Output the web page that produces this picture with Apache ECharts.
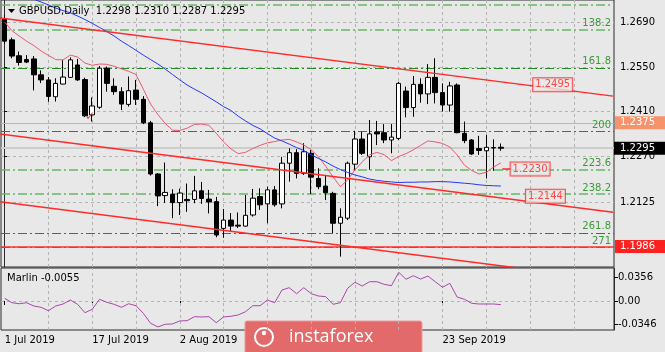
<!DOCTYPE html>
<html>
<head>
<meta charset="utf-8">
<script src="https://cdn.jsdelivr.net/npm/echarts@6/dist/echarts.min.js"></script>
<style>html,body{margin:0;padding:0;background:#e8e8e8;}#c{width:665px;height:352px;}</style>
</head>
<body>
<div id="c"></div>
<script>
const dates = ['1 Jul 2019','2 Jul 2019','3 Jul 2019','4 Jul 2019','5 Jul 2019','8 Jul 2019','9 Jul 2019','10 Jul 2019','11 Jul 2019','12 Jul 2019','15 Jul 2019','16 Jul 2019','17 Jul 2019','18 Jul 2019','19 Jul 2019','22 Jul 2019','23 Jul 2019','24 Jul 2019','25 Jul 2019','26 Jul 2019','29 Jul 2019','30 Jul 2019','31 Jul 2019',
'1 Aug 2019','2 Aug 2019','5 Aug 2019','6 Aug 2019','7 Aug 2019','8 Aug 2019','9 Aug 2019','12 Aug 2019','13 Aug 2019','14 Aug 2019','15 Aug 2019','16 Aug 2019','19 Aug 2019','20 Aug 2019','21 Aug 2019','22 Aug 2019','23 Aug 2019','26 Aug 2019','27 Aug 2019','28 Aug 2019','29 Aug 2019','30 Aug 2019',
'2 Sep 2019','3 Sep 2019','4 Sep 2019','5 Sep 2019','6 Sep 2019','9 Sep 2019','10 Sep 2019','11 Sep 2019','12 Sep 2019','13 Sep 2019','16 Sep 2019','17 Sep 2019','18 Sep 2019','19 Sep 2019','20 Sep 2019','23 Sep 2019','24 Sep 2019','25 Sep 2019','26 Sep 2019','27 Sep 2019','30 Sep 2019',
'1 Oct 2019','2 Oct 2019','3 Oct 2019','4 Oct 2019','7 Oct 2019','8 Oct 2019','9 Oct 2019','10 Oct 2019','11 Oct 2019','14 Oct 2019','15 Oct 2019','16 Oct 2019','17 Oct 2019','18 Oct 2019','21 Oct 2019','22 Oct 2019','23 Oct 2019','24 Oct 2019'];

const opens  = [1.2702,1.2636,1.2586,1.2574,1.2576,1.2526,1.2510,1.2457,1.2497,1.2518,1.2557,1.2511,1.2400,1.2424,1.2547,1.2490,1.2473,1.2433,1.2478,1.2449,1.2375,1.2214,1.2146,1.2150,1.2124,1.2134,1.2134,1.2161,1.2135,1.2127,1.2043,1.2069,1.2053,1.2050,1.2085,1.2143,1.2120,1.2164,1.2120,1.2248,1.2281,1.2216,1.2279,1.2200,1.2176,1.2153,1.2059,1.2075,1.2245,1.2324,1.2268,1.2346,1.2344,1.2321,1.2326,1.2475,1.2423,1.2496,1.2466,1.2518,1.2470,1.2431,1.2494,1.2342,1.2321,1.2294,1.2287,1.2297,1.2298];
const highs  = [1.2714,1.2643,1.2599,1.2588,1.2585,1.2540,1.2519,1.2515,1.2573,1.2581,1.2576,1.2517,1.2455,1.2554,1.2552,1.2515,1.2487,1.2521,1.2510,1.2459,1.2381,1.2217,1.2250,1.2166,1.2168,1.2184,1.2208,1.2189,1.2164,1.2142,1.2104,1.2091,1.2093,1.2148,1.2167,1.2169,1.2174,1.2176,1.2268,1.2295,1.2292,1.2311,1.2290,1.2232,1.2211,1.2158,1.2106,1.2253,1.2350,1.2347,1.2384,1.2381,1.2371,1.2371,1.2504,1.2489,1.2522,1.2515,1.2560,1.2578,1.2499,1.2504,1.2499,1.2379,1.2324,1.2334,1.2337,1.2323,1.2310];
const lows   = [1.2623,1.2578,1.2555,1.2563,1.2477,1.2500,1.2441,1.2442,1.2496,1.2516,1.2507,1.2393,1.2379,1.2419,1.2473,1.2463,1.2415,1.2426,1.2431,1.2371,1.2209,1.2113,1.2123,1.2075,1.2085,1.2095,1.2122,1.2120,1.2090,1.2015,1.2013,1.2035,1.2044,1.2048,1.2080,1.2101,1.2059,1.2111,1.2106,1.2190,1.2200,1.2211,1.2151,1.2166,1.2132,1.2028,1.1954,1.2069,1.2227,1.2274,1.2227,1.2305,1.2311,1.2279,1.2321,1.2392,1.2394,1.2438,1.2434,1.2436,1.2410,1.2410,1.2342,1.2311,1.2274,1.2274,1.2200,1.2224,1.2287];
const closes = [1.2632,1.2585,1.2565,1.2566,1.2526,1.2510,1.2458,1.2499,1.2519,1.2573,1.2510,1.2397,1.2428,1.2547,1.2499,1.2473,1.2434,1.2476,1.2449,1.2375,1.2214,1.2145,1.2156,1.2124,1.2154,1.2130,1.2161,1.2137,1.2126,1.2022,1.2069,1.2050,1.2050,1.2084,1.2138,1.2117,1.2164,1.2117,1.2248,1.2281,1.2216,1.2284,1.2204,1.2174,1.2155,1.2059,1.2078,1.2248,1.2324,1.2279,1.2340,1.2340,1.2321,1.2330,1.2499,1.2423,1.2496,1.2466,1.2518,1.2470,1.2431,1.2491,1.2344,1.2319,1.2277,1.2288,1.2298,1.2296,1.2295];

const redMA  = [1.2692,1.2665,1.2648,1.2632,1.2618,1.2601,1.2587,1.2574,1.2573,1.2588,1.2582,1.2563,1.2556,1.2560,1.2559,1.2553,1.2545,1.2537,1.2527,1.2481,1.2434,1.2401,1.2373,1.2352,1.2351,1.2358,1.2370,1.2371,1.2367,1.2342,1.2315,1.2293,1.2278,1.2282,1.2294,1.2304,1.2312,1.2316,1.2321,1.2323,1.2315,1.2305,1.2291,1.2268,1.2238,1.2205,1.2174,1.2195,1.2227,1.2252,1.2274,1.2282,1.2275,1.2256,1.2269,1.2278,1.2290,1.2304,1.2318,1.2315,1.2310,1.2299,1.2274,1.2242,1.2225,1.2214,1.2219,1.2236,1.2249];
const blueMA = [null,null,null,null,1.2764,1.2755,1.2746,1.2736,1.2728,1.2721,1.2711,1.2700,1.2688,1.2675,1.2662,1.2648,1.2632,1.2618,1.2603,1.2588,1.2574,1.2560,1.2544,1.2527,1.2510,1.2494,1.2481,1.2469,1.2455,1.2441,1.2426,1.2414,1.2396,1.2381,1.2367,1.2356,1.2341,1.2327,1.2318,1.2308,1.2297,1.2288,1.2274,1.2263,1.2252,1.2239,1.2228,1.2219,1.2211,1.2205,1.2198,1.2194,1.2191,1.2189,1.2187,1.2188,1.2188,1.2189,1.2189,1.2190,1.2190,1.2189,1.2187,1.2185,1.2183,1.2180,1.2178,1.2177,1.2176];

const marlin = [0.0041,-0.0026,-0.0041,-0.0026,-0.0075,-0.0095,-0.0146,-0.0075,-0.0045,0.0015,-0.0050,-0.0176,-0.0125,0.0026,-0.0020,-0.0050,-0.0095,-0.0041,-0.0071,-0.0185,-0.0335,-0.0390,-0.0350,-0.0345,-0.0300,-0.0296,-0.0236,-0.0240,-0.0236,-0.0326,-0.0240,-0.0230,-0.0210,-0.0161,-0.0071,-0.0071,0.0015,-0.0026,0.0165,0.0200,0.0110,0.0200,0.0110,0.0075,0.0065,-0.0050,-0.0026,0.0191,0.0281,0.0225,0.0290,0.0290,0.0251,0.0230,0.0431,0.0326,0.0380,0.0330,0.0375,0.0290,0.0206,0.0266,0.0060,0.0026,-0.0035,-0.0045,-0.0045,-0.0045,-0.0055];

const priceTicks  = [1.2690, 1.2550, 1.2410, 1.2270, 1.2125];
const marlinTicks = [0.0356, 0, -0.0346];
const dateLabelIdx = [0, 12, 24, 60];
const vGridIdx = [6,12,18,24,30,36,42,48,54,60,66,72,78];

const fibNames  = ['', '138.2', '161.8', '200', '223.6', '238.2', '261.8', '271'];
const fibLevels = [1.2746, 1.2669, 1.2548, 1.2349, 1.2227, 1.2151, 1.2029, 1.1982];

const salmonLevel = 1.2375;
const supportLevel = 1.1986;
const trendUpper  = [[-0.64, 1.2705], [83.36, 1.2459]];
const trendMiddle = [[-0.64, 1.2340], [83.36, 1.2094]];
const trendLower  = [[-0.64, 1.2127], [83.36, 1.1880]];
const trendLabels = [[75.1, 1.2495], [74.1, 1.2144], [72.0, 1.2230]];
const labelLead   = [[68.2, 1.2230], [69.5, 1.2230]];
const checkMark   = [[11.7, 1.2393]];

const last = closes.length - 1;
const F = 'DejaVu Sans';
const ohlc = opens.map((o, i) => [o, closes[i], lows[i], highs[i]]);
const darkFib = new Set(['161.8', '200', '261.8', '271']);

const chart = echarts.init(document.getElementById('c'), null, {renderer: 'canvas'});
const showIdx = (i) => dateLabelIdx.indexOf(i) >= 0;

const option = {
  animation: false,
  backgroundColor: '#e8e8e8',
  title: [
    {text: 'GBPUSD,Daily  ' + [opens[last], highs[last], lows[last], closes[last]].map(v => v.toFixed(4)).join(' '),
     left: 19, top: 6, padding: 0, textStyle: {fontFamily: F, fontSize: 10, fontWeight: 'normal', color: '#000'}},
    {text: 'Marlin ' + marlin[last].toFixed(4), left: 7, top: 273, padding: 0,
     textStyle: {fontFamily: F, fontSize: 10, fontWeight: 'normal', color: '#000'}}
  ],
  grid: [
    {left: 1, top: 0, width: 613, height: 267, show: true, borderColor: '#2b2b2b', borderWidth: 1, backgroundColor: 'transparent'},
    {left: 1, top: 268, width: 613, height: 62, show: true, borderColor: '#2b2b2b', borderWidth: 1, backgroundColor: 'transparent'}
  ],
  xAxis: [
    {type: 'category', gridIndex: 0, data: dates, boundaryGap: true, show: false},
    {type: 'value', gridIndex: 0, min: -0.5, max: 83.5, show: false},
    {type: 'category', gridIndex: 1, data: dates, boundaryGap: true,
     axisLine: {show: false},
     axisTick: {show: true, alignWithLabel: true, interval: (i) => showIdx(i), length: 4, lineStyle: {color: '#000'}},
     axisLabel: {interval: (i) => showIdx(i), align: 'left', color: '#000', fontSize: 10, fontFamily: F, margin: 5},
     splitLine: {show: false}}
  ],
  yAxis: [
    {type: 'value', gridIndex: 0, position: 'right', min: 1.19214, max: 1.27614,
     axisLine: {show: true, lineStyle: {color: '#2b2b2b'}},
     axisTick: {show: true, customValues: priceTicks, length: 4, lineStyle: {color: '#000'}},
     axisLabel: {customValues: priceTicks, formatter: (v) => v.toFixed(4), color: '#000', fontSize: 10, fontFamily: F, margin: 6},
     splitLine: {show: false}},
    {type: 'value', gridIndex: 1, position: 'right', min: -0.0436, max: 0.0496,
     axisLine: {show: true, lineStyle: {color: '#2b2b2b'}},
     axisTick: {show: true, customValues: marlinTicks, length: 4, lineStyle: {color: '#000'}},
     axisLabel: {customValues: marlinTicks, formatter: (v) => v === 0 ? '0.00' : v.toFixed(4), color: '#000', fontSize: 10, fontFamily: F, margin: 4},
     splitLine: {show: false}}
  ],
  series: [
    {type: 'line', xAxisIndex: 1, yAxisIndex: 0, data: [], silent: true,
     markLine: {silent: true, precision: 5, symbol: ['none', 'none'], z: 1, label: {show: false},
       lineStyle: {color: '#b3b3b3', type: [3, 3], width: 1},
       data: priceTicks.map(v => ({yAxis: v})).concat(vGridIdx.map(i => ({xAxis: i})))}},
    {type: 'line', xAxisIndex: 1, yAxisIndex: 0, data: [], silent: true,
     markLine: {silent: true, precision: 5, symbol: ['none', 'none'], z: 2,
       data: fibLevels.map((v, k) => ({
         name: fibNames[k], yAxis: v,
         lineStyle: {color: darkFib.has(fibNames[k]) ? '#238a23' : '#66b866', type: [9, 3, 2, 3], width: darkFib.has(fibNames[k]) ? 1 : 1.5},
         label: {show: fibNames[k] !== '', position: 'insideEndTop', formatter: '{b}', color: '#3a9a3a', fontSize: 10, fontFamily: F, distance: [3, 1]}
       })).concat([
         {yAxis: salmonLevel, lineStyle: {color: '#f5a183', type: 'solid', width: 1},
          label: {show: true, position: 'end', distance: 1, formatter: (p) => p.value.toFixed(4), backgroundColor: '#f7936b', color: '#fff', fontSize: 10, fontFamily: F, padding: [2, 10, 1, 5]}},
         {yAxis: closes[last], lineStyle: {color: '#cdcdcd', type: 'solid', width: 2},
          label: {show: true, position: 'end', distance: 0, formatter: (p) => p.value.toFixed(4), backgroundColor: '#000', color: '#fff', fontSize: 10, fontFamily: F, padding: [2, 10, 1, 6]}},
         {yAxis: supportLevel, lineStyle: {color: '#ff3030', type: 'solid', width: 1.5},
          label: {show: true, position: 'end', distance: 1, formatter: (p) => p.value.toFixed(4), backgroundColor: '#ff2020', color: '#fff', fontSize: 10, fontFamily: F, padding: [2, 10, 1, 5]}}
       ])}},
    {type: 'candlestick', xAxisIndex: 0, yAxisIndex: 0, data: ohlc, barWidth: 5, z: 3,
     itemStyle: {color: '#ffffff', color0: '#000000', borderColor: '#000000', borderColor0: '#000000', borderWidth: 1}},
    {type: 'line', xAxisIndex: 0, yAxisIndex: 0, data: redMA, symbol: 'none', z: 4,
     lineStyle: {color: '#e95a72', width: 1}},
    {type: 'line', xAxisIndex: 0, yAxisIndex: 0, data: blueMA, symbol: 'none', z: 4,
     lineStyle: {color: '#2338f0', width: 1}},
    {type: 'line', xAxisIndex: 1, yAxisIndex: 0, data: trendUpper, symbol: 'none', z: 5, lineStyle: {color: '#ff2a2a', width: 1.5}},
    {type: 'line', xAxisIndex: 1, yAxisIndex: 0, data: trendMiddle, symbol: 'none', z: 5, lineStyle: {color: '#ff2a2a', width: 1.5}},
    {type: 'line', xAxisIndex: 1, yAxisIndex: 0, data: trendLower, symbol: 'none', z: 5, lineStyle: {color: '#ff2a2a', width: 1.5}},
    {type: 'line', xAxisIndex: 1, yAxisIndex: 0, data: labelLead, symbol: 'none', z: 5, lineStyle: {color: '#ff2a2a', width: 1.5}},
    {type: 'scatter', xAxisIndex: 1, yAxisIndex: 0, data: trendLabels, symbolSize: 1, z: 8,
     itemStyle: {color: 'rgba(0,0,0,0)'},
     label: {show: true, position: 'inside', formatter: (p) => p.value[1].toFixed(4), color: '#ff2020', fontSize: 10, fontFamily: F,
       backgroundColor: '#e8e8e8', borderColor: '#ff2020', borderWidth: 1, padding: [2, 2, 1, 2]}},
    {type: 'scatter', xAxisIndex: 1, yAxisIndex: 0, data: checkMark, symbolSize: 1, z: 8,
     itemStyle: {color: 'rgba(0,0,0,0)'},
     label: {show: true, position: 'inside', formatter: '\u2713', color: '#ff2020', fontSize: 12, fontFamily: F}},
    {type: 'line', xAxisIndex: 2, yAxisIndex: 1, data: marlin, symbol: 'none', z: 4,
     lineStyle: {color: '#a948a9', width: 1},
     markLine: {silent: true, precision: 5, symbol: ['none', 'none'], z: 1, label: {show: false},
       lineStyle: {color: '#b3b3b3', type: [3, 3], width: 1},
       data: [{yAxis: 0}].concat(vGridIdx.map(i => ({xAxis: i})))}}
  ],
  graphic: [
    {type: 'polygon', z: 50, shape: {points: [[8, 9], [15, 9], [11.5, 13]]}, style: {fill: '#000'}},
    {type: 'group', z: 100, children: [
      {type: 'rect', shape: {x: 245, y: 321, width: 177, height: 32, r: [2, 2, 0, 0]}, style: {fill: '#e36a6b', stroke: '#ee9a9a', lineWidth: 1}},
      {type: 'circle', shape: {cx: 264, cy: 337, r: 9}, style: {fill: 'none', stroke: '#fff', lineWidth: 2}},
      {type: 'circle', shape: {cx: 264, cy: 333, r: 2.2}, style: {fill: '#fff'}},
      {type: 'text', style: {x: 289, y: 337, text: 'instaforex', fill: '#fff', font: '18px "Open Sans"', textVerticalAlign: 'middle', verticalAlign: 'middle'}}
    ]}
  ]
};
chart.setOption(option);
</script>
</body>
</html>
